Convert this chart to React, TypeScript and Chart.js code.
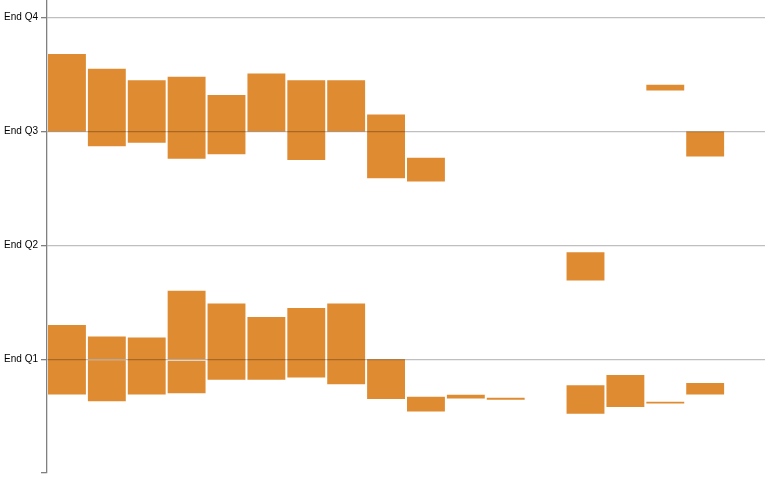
import React, { useEffect, useRef } from "react";
import { Chart, registerables } from "chart.js";

Chart.register(...registerables);

// 18 time columns, unlabeled
const categories: string[] = Array.from({ length: 18 }, () => "");

// Quarter-end tick labels (value -> label)
const tickValues = [0, 1, 2, 3, 4];
const tickLabels = ["", "End Q1", "End Q2", "End Q3", "End Q4"];

type Span = [number, number] | null;

// Upper band of spans (around Q3)
const upperSpans: Span[] = [
  [3.0, 3.68],
  [2.87, 3.55],
  [2.9, 3.45],
  [2.76, 3.48],
  [2.8, 3.32],
  [3.0, 3.51],
  [2.75, 3.45],
  [3.0, 3.45],
  [2.59, 3.15],
  [2.56, 2.77],
  null,
  null,
  null,
  [1.69, 1.94],
  null,
  [3.36, 3.41],
  [2.78, 3.0],
  null,
];

// Lower band of spans (around Q1)
const lowerSpans: Span[] = [
  [0.69, 1.3],
  [1.0, 1.2],
  [0.69, 1.19],
  [1.0, 1.6],
  [0.82, 1.49],
  [0.82, 1.37],
  [0.84, 1.45],
  [0.78, 1.49],
  [0.65, 1.0],
  [0.54, 0.67],
  [0.654, 0.687],
  [0.643, 0.66],
  null,
  [0.52, 0.77],
  [0.58, 0.86],
  [0.61, 0.626],
  [0.69, 0.79],
  null,
];

// Portions of lower spans that continue past the Q1 boundary
const lowerCarry: Span[] = [
  null,
  [0.63, 0.99],
  null,
  [0.7, 0.985],
  null, null, null, null, null, null, null, null, null, null, null, null, null, null,
];

const barColor = "rgb(223,139,50)";
const axisMax = 4.155;

export default function App() {
  const canvasRef = useRef<HTMLCanvasElement | null>(null);

  useEffect(() => {
    if (!canvasRef.current) return;
    const mk = (data: Span[]) => ({
      data: data as any,
      backgroundColor: barColor,
      borderWidth: 0,
      borderSkipped: false as any,
      grouped: false,
      barPercentage: 0.95,
      categoryPercentage: 1,
    });
    const chart = new Chart(canvasRef.current, {
      type: "bar",
      data: {
        labels: categories,
        datasets: [mk(upperSpans), mk(lowerSpans), mk(lowerCarry)],
      },
      options: {
        animation: false,
        responsive: false,
        maintainAspectRatio: false,
        layout: { padding: { top: 0, bottom: 7, left: 0, right: 0 } },
        plugins: {
          legend: { display: false },
          tooltip: { enabled: false },
        },
        scales: {
          x: {
            display: false,
            offset: true,
          },
          y: {
            min: 0,
            max: axisMax,
            afterBuildTicks: (scale: any) => {
              scale.ticks = tickValues.map((v) => ({ value: v }));
            },
            afterFit: (scale: any) => {
              scale.width = 47;
              scale.paddingTop = 0;
              scale.paddingBottom = 0;
            },
            grid: {
              z: 1,
              color: (ctx: any) =>
                ctx.tick && ctx.tick.value === 0 ? "rgba(0,0,0,0)" : "rgba(0,0,0,0.25)",
              tickColor: "#808080",
              tickLength: 6,
              lineWidth: 1.3,
            },
            border: { display: true, color: "#808080", width: 1.3, z: 1 } as any,
            ticks: {
              padding: 3,
              color: "#000",
              font: { family: "Liberation Sans, Arial, sans-serif", size: 10 },
              callback: (v: any) => tickLabels[tickValues.indexOf(Number(v))] ?? "",
            },
          },
        },
      },
    });
    return () => chart.destroy();
  }, []);

  return (
    <div style={{ position: "absolute", left: 0, top: 0, width: 765, height: 480, background: "#fff" }}>
      <canvas ref={canvasRef} width={765} height={480} style={{ width: 765, height: 480 }} />
    </div>
  );
}
